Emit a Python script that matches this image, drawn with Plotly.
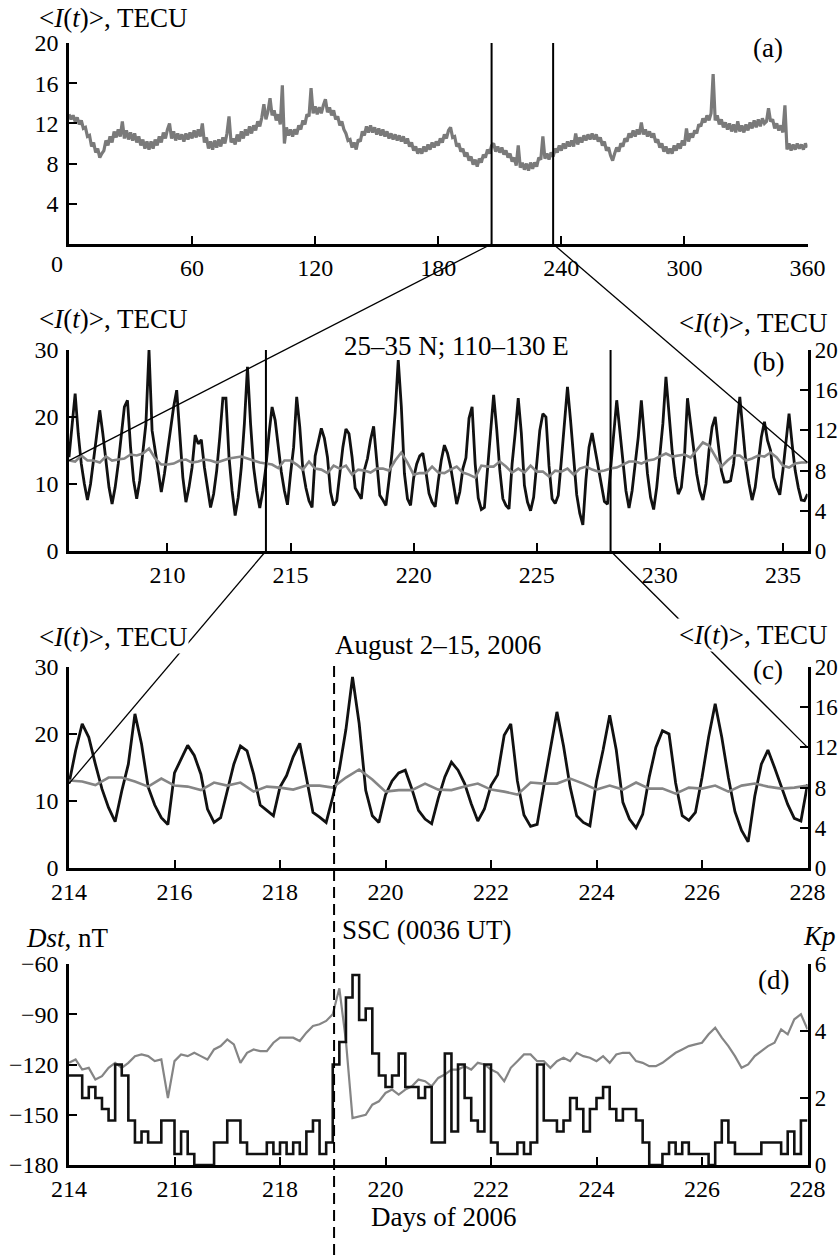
import plotly.graph_objects as go

W, H = 839, 1255
FONT = "Liberation Serif, Times New Roman, serif"
GRAY = "#858585"
GRAY_A = "#7a7a7a"
BLACK = "#111111"

# ---------------- DATA ----------------
# (a) daily <I(t)>, TECU, days 0..360 of 2006
tec_year = [
    12.9, 12.4, 12.8, 12.2, 12.6, 11.9, 12.3, 11.5, 11.6, 10.7,
    10.8, 9.7, 10.1, 9.1, 9.5, 8.6, 9.0, 9.3, 10.3, 9.8,
    10.7, 10.1, 11.2, 10.6, 11.4, 10.7, 12.2, 10.5, 11.3, 10.4,
    11.1, 10.3, 11.0, 10.1, 10.7, 9.8, 10.4, 9.5, 10.2, 9.4,
    10.2, 9.5, 10.4, 9.8, 10.7, 10.1, 11.1, 10.5, 11.4, 12.0,
    10.5, 11.2, 10.3, 11.0, 10.4, 10.9, 10.2, 11.0, 10.4, 11.1,
    10.5, 11.3, 10.6, 11.4, 10.7, 12.0, 10.1, 10.6, 9.5, 10.2,
    9.4, 10.3, 9.6, 10.4, 9.7, 10.6, 10.0, 11.0, 12.7, 10.1,
    10.5, 9.9, 10.9, 10.2, 11.2, 10.5, 11.4, 10.8, 11.7, 11.0,
    11.8, 11.3, 12.2, 11.7, 12.6, 13.9, 12.4, 13.2, 14.5, 12.8,
    13.3, 12.3, 12.9, 11.9, 15.8, 10.0, 11.6, 10.8, 11.4, 10.7,
    11.4, 10.9, 11.8, 11.4, 12.3, 11.9, 12.9, 12.7, 15.5, 13.0,
    13.7, 12.9, 13.6, 13.0, 13.8, 14.4, 13.1, 13.6, 12.8, 13.3,
    12.4, 12.7, 11.8, 12.2, 11.4, 11.0, 10.3, 10.4, 9.6, 10.1,
    9.4, 10.4, 10.2, 11.2, 10.8, 11.7, 11.1, 11.8, 11.1, 11.6,
    10.9, 11.5, 10.8, 11.4, 10.7, 11.2, 10.5, 11.0, 10.4, 10.9,
    10.3, 10.8, 10.2, 10.7, 10.0, 10.5, 9.7, 10.1, 9.3, 9.7,
    9.0, 9.5, 9.0, 9.7, 9.2, 9.9, 9.4, 10.1, 9.6, 10.2,
    9.8, 10.5, 10.1, 10.9, 10.5, 11.3, 11.6, 10.6, 10.7, 9.7,
    10.0, 9.2, 9.5, 8.7, 9.1, 8.3, 8.7, 7.9, 8.4, 7.7,
    8.5, 8.1, 8.9, 8.6, 9.4, 9.0, 9.8, 10.0, 9.2, 9.7,
    9.1, 9.6, 8.9, 9.3, 8.6, 9.0, 8.2, 8.6, 7.8, 9.8,
    7.6, 8.1, 7.4, 8.0, 7.3, 8.1, 7.5, 8.1, 7.7, 8.6,
    8.4, 10.7, 8.5, 9.0, 8.4, 9.1, 8.7, 9.5, 9.1, 9.8,
    9.3, 10.0, 9.5, 10.2, 9.7, 10.3, 9.7, 11.0, 9.9, 10.6,
    10.1, 10.8, 10.3, 10.9, 10.4, 11.0, 10.4, 10.9, 10.2, 10.6,
    9.8, 10.2, 9.3, 9.6, 8.8, 8.3, 9.0, 9.6, 9.2, 10.0,
    9.7, 10.5, 10.2, 11.0, 10.6, 11.3, 10.7, 11.4, 10.9, 12.1,
    10.9, 11.4, 10.7, 11.2, 10.6, 11.0, 10.1, 10.4, 9.6, 10.0,
    9.2, 9.7, 9.0, 9.5, 9.0, 9.8, 9.3, 10.0, 9.5, 10.3,
    9.8, 11.5, 10.2, 11.0, 10.6, 11.3, 11.0, 11.9, 11.7, 12.5,
    12.1, 12.8, 12.3, 13.0, 16.9, 12.3, 12.8, 11.9, 12.4, 11.6,
    12.1, 11.4, 12.0, 11.2, 11.9, 11.1, 12.2, 11.2, 11.8, 11.1,
    11.9, 11.3, 12.1, 11.5, 12.3, 11.6, 12.4, 11.7, 12.5, 12.0,
    12.2, 13.5, 12.2, 12.4, 11.5, 12.0, 11.3, 11.8, 11.1, 13.8,
    9.4, 10.0, 9.3, 9.9, 9.4, 10.0, 9.5, 9.9, 9.4, 10.0, 9.6,
]

# (b),(c) regional TEC (25-35 N; 110-130 E), 3-hourly from day 206.0 to 236.0 (left axis)
region_t0 = 206.0
region_step = 0.125
tec_region = [
    14.0, 18.5, 23.5, 17.5, 13.0, 10.0, 7.6, 10.0,     # 206
    13.5, 17.5, 21.0, 17.5, 13.0, 9.5, 7.0, 9.5,       # 207
    13.0, 17.0, 21.5, 22.5, 15.5, 10.5, 7.8, 10.5,     # 208
    14.5, 19.0, 30.0, 18.0, 15.0, 12.0, 8.8, 11.5,     # 209
    15.0, 18.0, 21.5, 24.0, 17.0, 11.0, 7.3, 9.5,      # 210
    12.5, 17.3, 16.0, 16.6, 12.5, 9.5, 6.5, 8.5,       # 211
    12.0, 17.0, 22.8, 22.8, 14.0, 9.0, 5.3, 8.0,       # 212
    12.5, 19.0, 27.5, 19.0, 12.5, 9.0, 6.4, 9.0,       # 213
    12.6, 17.5, 21.5, 19.5, 15.5, 11.8, 9.0, 6.9,      # 214
    11.5, 15.5, 23.0, 18.5, 12.1, 9.4, 7.5, 6.5,       # 215
    14.2, 16.2, 18.3, 16.8, 14.0, 8.8, 6.8, 7.5,       # 216
    11.5, 15.5, 18.2, 17.5, 14.0, 9.4, 8.6, 7.8,       # 217
    12.1, 13.8, 16.6, 18.6, 13.5, 8.3, 7.6, 6.8,       # 218
    10.6, 14.7, 20.7, 28.5, 21.6, 11.6, 7.8, 6.8,      # 219
    10.9, 13.0, 14.2, 14.6, 11.8, 8.6, 7.3, 6.6,       # 220
    10.4, 13.6, 15.8, 14.6, 12.6, 9.6, 7.0, 8.8,       # 221
    12.3, 13.9, 19.8, 21.5, 13.0, 7.9, 6.2, 6.5,       # 222
    12.2, 17.9, 23.3, 18.2, 12.1, 7.8, 6.8, 6.3,       # 223
    13.0, 17.6, 22.8, 17.6, 9.8, 7.3, 6.0, 8.0,        # 224
    13.6, 18.0, 20.5, 20.0, 12.7, 7.8, 7.1, 8.3,       # 225
    13.5, 19.5, 24.5, 19.5, 13.5, 8.4, 5.6, 3.9,       # 226
    10.7, 15.5, 17.6, 15.0, 12.4, 9.5, 7.4, 7.0,       # 227
    12.5, 17.5, 22.5, 18.0, 13.0, 9.0, 6.4, 9.0,       # 228
    13.0, 17.0, 22.5, 17.5, 11.5, 8.0, 6.2, 9.5,       # 229
    14.0, 19.0, 26.0, 20.0, 15.0, 11.0, 8.5, 9.5,      # 230
    14.0, 22.8, 19.0, 15.0, 11.5, 9.0, 7.6, 10.0,      # 231
    15.0, 18.5, 20.0, 16.0, 12.0, 10.3, 10.3, 10.5,    # 232
    13.0, 18.0, 23.0, 18.0, 13.0, 10.0, 7.6, 9.5,      # 233
    13.0, 17.0, 19.3, 16.5, 15.0, 11.0, 9.5, 8.4,      # 234
    12.0, 16.0, 20.5, 16.0, 12.0, 9.5, 7.6, 7.5,       # 235
    8.5,                                               # 236.0
]

# (b),(c) mean TEC, 6-hourly from day 206.0 to 236.0 (right axis)
mean_step = 0.25
tec_mean = [
    9.0, 8.9, 9.5, 9.0,   9.0, 8.8, 9.4, 9.0,   9.1, 9.2, 9.6, 9.5,
    9.7, 10.2, 9.2, 8.6,  8.6, 8.7, 9.0, 9.1,   8.8, 8.9, 9.1, 9.0,
    8.8, 9.0, 9.2, 9.3,   9.4, 9.2, 9.0, 8.8,   8.7, 8.6, 8.25, 9.0,
    9.0, 8.6, 8.1, 8.9,   8.2, 8.1, 7.75, 8.5,  8.2, 8.5, 7.6, 8.1,
    8.0, 7.8, 8.2, 8.2,   8.0, 9.0, 9.8, 8.8,   7.6, 7.75, 7.75, 8.4,
    7.8, 7.75, 8.1, 8.4,  7.8, 7.6, 7.3, 8.5,   8.4, 8.4, 8.9, 8.4,
    7.8, 8.2, 7.8, 8.5,   7.9, 7.9, 7.4, 8.0,   7.9, 8.2, 7.6, 8.2,
    8.4, 8.1, 7.9, 8.0,   8.2, 8.3, 8.6, 8.9,   8.9, 8.7, 9.0, 9.1,
    9.4, 9.7, 9.4, 9.5,   9.6, 9.3, 10.0, 10.8, 10.5, 9.4, 8.4, 9.0,
    9.5, 9.5, 9.0, 9.2,   9.5, 9.4, 9.8, 9.3,   8.5, 8.3, 8.7, 8.8,
    8.8,
]

# (d) 3-hourly Kp and Dst (nT) from day 214.0
geo_t0 = 214.0
geo_step = 0.125
kp = [
    2.67, 2.67, 2.0, 2.33, 2.0, 1.67, 1.33, 3.0,
    2.67, 1.33, 0.67, 1.0, 0.67, 0.67, 1.33, 1.33,
    0.33, 1.0, 0.33, 0.0, 0.0, 0.0, 0.67, 0.67,
    1.33, 1.33, 0.67, 0.33, 0.33, 0.33, 0.67, 0.33,
    0.67, 0.33, 0.67, 0.33, 1.0, 1.33, 0.33, 0.67,
    3.0, 3.67, 5.0, 5.67, 4.33, 4.67, 3.33, 2.67,
    2.33, 2.67, 3.33, 2.33, 2.33, 2.0, 2.33, 0.67,
    0.67, 3.33, 1.0, 3.0, 2.0, 1.33, 1.0, 3.0,
    0.67, 0.33, 0.33, 0.33, 0.67, 0.33, 0.67, 3.0,
    1.33, 1.33, 1.0, 1.33, 2.0, 1.67, 1.0, 1.67,
    2.0, 2.33, 1.67, 1.33, 1.67, 1.67, 1.33, 0.67,
    0.0, 0.0, 0.33, 0.67, 0.33, 0.67, 0.33, 0.33,
    0.33, 0.0, 0.67, 1.33, 0.67, 0.33, 0.33, 0.33,
    0.33, 0.67, 0.67, 0.67, 0.33, 1.0, 0.33, 1.33,
]
dst = [
    -119, -117, -123, -122, -129, -127, -122, -119,
    -122, -119, -115, -114, -115, -118, -117, -140,
    -118, -114, -115, -113, -115, -117, -111, -109,
    -105, -108, -119, -113, -111, -112, -112, -107,
    -104, -104, -104, -106, -101, -97, -96, -94,
    -90, -74.5, -106, -152, -151, -150, -144, -142,
    -137, -135, -138, -135, -133, -129, -130, -133,
    -128, -126, -123, -123, -121, -123, -119, -120,
    -123, -125, -130, -122, -118, -114, -114, -118,
    -118, -122, -118, -116, -118, -113, -115, -116,
    -118, -115, -119, -114, -113, -113, -118, -119,
    -121, -121, -119, -116, -113, -111, -109, -108,
    -107, -102, -98, -104, -109, -115, -122, -120,
    -115, -112, -109, -107, -99, -102, -93, -90,
    -99,
]
ssc_day = 219.025  # SSC at 0036 UT

# ---------------- DERIVED SERIES ----------------
t_year = list(range(len(tec_year)))
t_reg = [region_t0 + i * region_step for i in range(len(tec_region))]
t_mean = [region_t0 + i * mean_step for i in range(len(tec_mean))]
c_lo, c_hi = 214.0, 228.0
tc_reg = [t for t in t_reg if c_lo <= t <= c_hi]
vc_reg = [v for t, v in zip(t_reg, tec_region) if c_lo <= t <= c_hi]
tc_mean = [t for t in t_mean if c_lo <= t <= c_hi]
vc_mean = [v for t, v in zip(t_mean, tec_mean) if c_lo <= t <= c_hi]
t_kp = [geo_t0 + i * geo_step for i in range(len(kp) + 1)]
kp_y = kp + [kp[-1]]
t_dst = [geo_t0 + i * geo_step for i in range(len(dst))]

# ---------------- LAYOUT GEOMETRY ----------------
def py(p):
    return 1 - p / H

XD = [69 / W, 807.5 / W]
A_Y = [py(244), py(43)]
B_Y = [py(551), py(350)]
C_Y = [py(868), py(667)]
D_Y = [py(1165), py(964)]
A_XR, A_YR = [0, 360], [0, 20]
B_XR, B_YR, B_YRR = [206, 236], [0, 30], [0, 20]
C_XR, C_YR, C_YRR = [214, 228], [0, 30], [0, 20]
D_XR, D_YR, D_YRR = [214, 228], [-180, -60], [0, 6]


def to_paper(dom, rng, v):
    return dom[0] + (v - rng[0]) / (rng[1] - rng[0]) * (dom[1] - dom[0])


fig = go.Figure()

fig.add_trace(go.Scatter(x=t_year, y=tec_year, xaxis="x", yaxis="y", mode="lines",
                         line=dict(color=GRAY_A, width=3.2)))
fig.add_trace(go.Scatter(x=t_reg, y=tec_region, xaxis="x2", yaxis="y2", mode="lines",
                         line=dict(color=BLACK, width=2.8)))
fig.add_trace(go.Scatter(x=t_mean, y=tec_mean, xaxis="x2", yaxis="y3", mode="lines",
                         line=dict(color=GRAY, width=2.6)))
fig.add_trace(go.Scatter(x=tc_reg, y=vc_reg, xaxis="x3", yaxis="y4", mode="lines",
                         line=dict(color=BLACK, width=2.8)))
fig.add_trace(go.Scatter(x=tc_mean, y=vc_mean, xaxis="x3", yaxis="y5", mode="lines",
                         line=dict(color=GRAY, width=2.6)))
fig.add_trace(go.Scatter(x=t_dst, y=dst, xaxis="x4", yaxis="y6", mode="lines",
                         line=dict(color=GRAY, width=2.2)))
fig.add_trace(go.Scatter(x=t_kp, y=kp_y, xaxis="x4", yaxis="y7", mode="lines",
                         line=dict(color=BLACK, width=2.6, shape="hv")))

ax = dict(showline=True, linecolor="black", linewidth=2.5, ticks="inside", ticklen=8,
          tickwidth=2, tickcolor="black", showgrid=False, zeroline=False, automargin=False,
          tickfont=dict(family=FONT, size=24, color="black"), fixedrange=True)
xax = dict(ax, ticklabelstandoff=0)
yax = dict(ax, ticklabelstandoff=3)
yax_r = dict(ax, ticklabelstandoff=0, tickfont=dict(family=FONT, size=23, color="black"))

fig.update_layout(
    width=W, height=H, autosize=False,
    margin=dict(l=0, r=0, t=0, b=0, pad=0),
    paper_bgcolor="white", plot_bgcolor="white",
    showlegend=False,
    font=dict(family=FONT, color="black"),
    xaxis=dict(xax, domain=XD, range=A_XR, tickvals=[60, 120, 180, 240, 300, 360], anchor="y"),
    yaxis=dict(yax, domain=A_Y, range=A_YR, tickvals=[4, 8, 12, 16, 20], anchor="x"),
    xaxis2=dict(xax, domain=XD, range=B_XR, tickvals=[210, 215, 220, 225, 230, 235], anchor="y2"),
    yaxis2=dict(yax, domain=B_Y, range=B_YR, tickvals=[0, 10, 20, 30], anchor="x2"),
    yaxis3=dict(yax_r, range=B_YRR, tickvals=[0, 4, 8, 12, 16, 20], overlaying="y2",
                side="right", anchor="x2"),
    xaxis3=dict(xax, domain=XD, range=C_XR, tickvals=list(range(214, 229, 2)), anchor="y4"),
    yaxis4=dict(yax, domain=C_Y, range=C_YR, tickvals=[0, 10, 20, 30], anchor="x3"),
    yaxis5=dict(yax_r, range=C_YRR, tickvals=[0, 4, 8, 12, 16, 20], overlaying="y4",
                side="right", anchor="x3"),
    xaxis4=dict(xax, domain=XD, range=D_XR, tickvals=list(range(214, 229, 2)), anchor="y6"),
    yaxis6=dict(yax, domain=D_Y, range=D_YR, tickvals=[-180, -150, -120, -90, -60],
                ticktext=["\u2212180", "\u2212150", "\u2212120", "\u221290", "\u221260"], anchor="x4"),
    yaxis7=dict(yax_r, range=D_YRR, tickvals=[0, 2, 4, 6], overlaying="y6", side="right", anchor="x4"),
)

# ---------------- SHAPES ----------------
shapes = []
thin = dict(color="black", width=1.3)
for d in (B_XR[0], B_XR[1]):
    shapes.append(dict(type="line", xref="x", yref="y", x0=d, x1=d, y0=A_YR[0], y1=A_YR[1],
                       line=dict(color="black", width=2)))
for d in (C_XR[0], C_XR[1]):
    shapes.append(dict(type="line", xref="x2", yref="y2", x0=d, x1=d, y0=B_YR[0], y1=B_YR[1],
                       line=dict(color="black", width=2)))
shapes.append(dict(type="line", xref="paper", yref="paper",
                   x0=to_paper(XD, A_XR, B_XR[0]), y0=to_paper(A_Y, A_YR, 0),
                   x1=to_paper(XD, B_XR, B_XR[0]), y1=to_paper(B_Y, B_YRR, tec_mean[0]), line=thin))
shapes.append(dict(type="line", xref="paper", yref="paper",
                   x0=to_paper(XD, A_XR, B_XR[1]), y0=to_paper(A_Y, A_YR, 0),
                   x1=to_paper(XD, B_XR, B_XR[1]), y1=to_paper(B_Y, B_YRR, tec_mean[-1]), line=thin))
shapes.append(dict(type="line", xref="paper", yref="paper",
                   x0=to_paper(XD, B_XR, C_XR[0]), y0=to_paper(B_Y, B_YR, 0),
                   x1=to_paper(XD, C_XR, C_XR[0]), y1=to_paper(C_Y, C_YR, vc_reg[0]), line=thin))
shapes.append(dict(type="line", xref="paper", yref="paper",
                   x0=to_paper(XD, B_XR, C_XR[1]), y0=to_paper(B_Y, B_YR, 0),
                   x1=to_paper(XD, C_XR, C_XR[1]), y1=to_paper(C_Y, C_YRR, 12), line=thin))
xs = to_paper(XD, C_XR, ssc_day)
shapes.append(dict(type="line", xref="paper", yref="paper", x0=xs, x1=xs, y0=0, y1=py(660),
                   line=dict(color="black", width=2, dash="11px,6px")))
fig.update_layout(shapes=shapes)

# ---------------- TEXT ----------------
TEC = "&lt;<i>I</i>(<i>t</i>)&gt;, TECU"


def ann(text, xpx, ypx, xanchor="center", size=27, bg=None):
    d = dict(text=text, x=xpx / W, y=py(ypx), xref="paper", yref="paper", showarrow=False,
             xanchor=xanchor, yanchor="middle", font=dict(family=FONT, size=size, color="black"))
    if bg:
        d["bgcolor"] = bg
    return d


annotations = [
    ann(TEC, 37, 18, "left"),
    ann("0", 57, 264, size=24),
    ann("(a)", 768, 48),
    ann(TEC, 37, 319, "left"),
    ann(TEC, 829, 323, "right"),
    ann("25\u201335 N; 110\u2013130 E", 456, 346),
    ann("(b)", 768, 362),
    ann(TEC, 37, 637, "left", bg="white"),
    ann(TEC, 829, 635, "right", bg="white"),
    ann("August 2\u201315, 2006", 438, 645),
    ann("(c)", 768, 670),
    ann("<i>Dst</i>, nT", 24, 938, "left"),
    ann("<i>Kp</i>", 838, 936, "right"),
    ann("SSC (0036 UT)", 340, 930, "left"),
    ann("(d)", 773, 980),
    ann("Days of 2006", 443, 1217),
]
fig.update_layout(annotations=annotations)

# page body without the browser's default 8px margin, so the 839x1255 figure fills the window
fig.write_html("out.html", config={"displayModeBar": False},
               post_script="document.body.style.margin='0';document.body.style.overflow='hidden';")
